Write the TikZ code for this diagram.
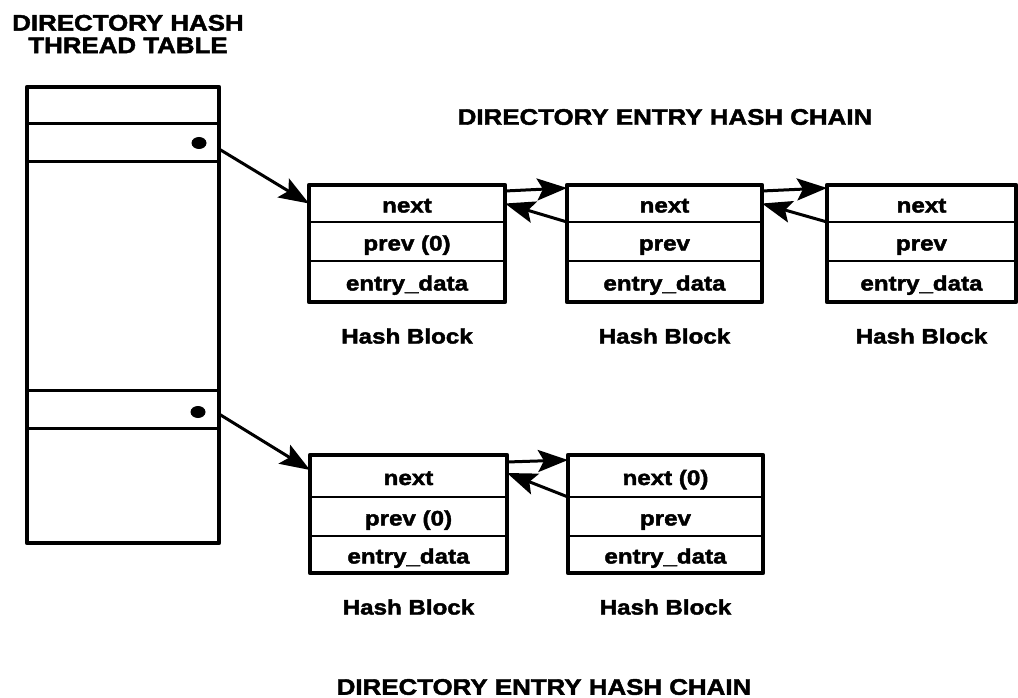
\documentclass[tikz,border=0pt]{standalone}
\usepackage{fontspec}
\newfontfamily\hb[FakeStretch=1.15,FakeBold=2]{Liberation Sans Bold}
\usetikzlibrary{arrows.meta,shapes.geometric}
\newcommand\txtbig{\hb\fontsize{22.5}{22.5}\selectfont}
\newcommand\txtcell{\hb\fontsize{21}{24}\selectfont}

% one hash block: name, x, y (top left), width, next text, prev text;
% row heights are taken from \rowa, \rowb, \rowc
\newcommand\chainblock[6]{%
  \node[cell,minimum width=#4pt,minimum height=\rowa] (#1n) at (#2,#3) {#5};
  \node[cell,minimum width=#4pt,minimum height=\rowb] (#1p) at (#1n.south west) {#6};
  \node[cell,minimum width=#4pt,minimum height=\rowc] (#1d) at (#1p.south west) {entry\_data};
  \draw[blockframe] (#1n.north west) rectangle (#1d.south east);
  \node[blocklbl] (#1lbl) at ([yshift=-34pt]#1d.south) {Hash Block};
}

\begin{document}
\begin{tikzpicture}[x=1pt,y=-1pt,
  cell/.style={draw,line width=2.5pt,inner sep=0pt,outer sep=0pt,anchor=north west,
    font=\txtcell,text height=18pt,text depth=0pt},
  blockframe/.style={line width=4.4pt,line join=round},
  blocklbl/.style={font=\txtcell,inner sep=0pt},
  title/.style={font=\txtbig,inner sep=0pt,align=center},
  tcell/.style={draw,line width=3pt,minimum width=192pt,minimum height=38pt,
    inner sep=0pt,outer sep=0pt,anchor=north west},
  ptr/.style={fill,ellipse,minimum width=15pt,minimum height=12pt,inner sep=0pt},
  link/.style={line width=3pt,-{Stealth[length=30pt,width=22pt,inset=6pt]}}]

\useasboundingbox (0,0) rectangle (1018,698);

% thread table
\node[title] (ttitle) at (128,34) {DIRECTORY HASH\\THREAD TABLE};
\node[tcell] (t1) at (27,124) {};
\node[tcell] (t2) at (27,390) {};
\draw[line width=4.8pt,line join=round] (27,87) rectangle (219,543);
\node[ptr] (d1) at (199,143) {};
\node[ptr] (d2) at (198,412) {};

% upper chain
\node[title] (chain1) at (665,117) {DIRECTORY ENTRY HASH CHAIN};
\def\rowa{37pt}\def\rowb{39pt}\def\rowc{41pt}
\chainblock{b1}{309}{185}{196}{next}{prev (0)}
\chainblock{b2}{567}{185}{195}{next}{prev}
\chainblock{b3}{827}{185}{189}{next}{prev}

% lower chain
\def\rowa{42pt}\def\rowb{39pt}\def\rowc{37pt}
\chainblock{b4}{310}{455}{197}{next}{prev (0)}
\chainblock{b5}{568}{455}{195}{next (0)}{prev}
\node[title] (chain2) at (544,687) {DIRECTORY ENTRY HASH CHAIN};

% table pointers
\draw[link] ([yshift=-6pt]t1.east) -- ([yshift=0pt]b1n.west);
\draw[link] ([yshift=-5pt]t2.east) -- ([yshift=6pt]b4n.west);

% next / prev links
\draw[link] ([yshift=-6pt]b1n.north east) -- ([yshift=-3pt]b2n.north west);
\draw[link] (b2n.south west) -- ([yshift=0pt]b1n.east);
\draw[link] ([yshift=-6pt]b2n.north east) -- ([yshift=-3pt]b3n.north west);
\draw[link] (b3n.south west) -- ([yshift=0pt]b2n.east);
\draw[link] ([yshift=-7pt]b4n.north east) -- ([yshift=-5pt]b5n.north west);
\draw[link] (b5n.south west) -- ([yshift=3pt]b4n.east);
\end{tikzpicture}
\end{document}
